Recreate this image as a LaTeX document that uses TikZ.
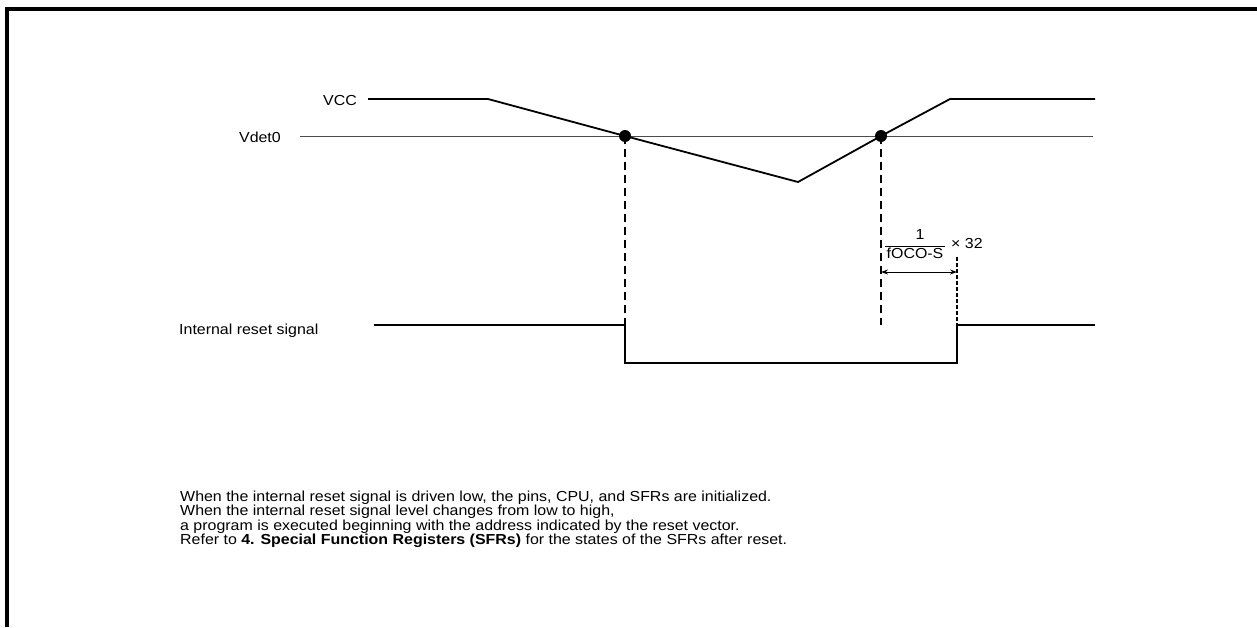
\documentclass[tikz,border=0pt]{standalone}
\usepackage{fontspec}
\setmainfont{Liberation Sans}[FakeStretch=1.1]
\usetikzlibrary{arrows.meta}
\begin{document}
\begin{tikzpicture}[x=1pt,y=-1pt,font=\fontsize{14.5}{14.5}\selectfont,
	signal/.style={line width=1.8pt},
	hilfslinie/.style={line width=1.4pt,dash pattern=on 8pt off 5pt},
	punkt/.style={circle,fill,inner sep=0pt,minimum size=12pt},
	beschriftung/.style={inner sep=0pt}]
	\useasboundingbox (0,0) rectangle (1257,627);
	\draw[line width=3.5pt] (7,627) -- (7,9) -- (1257,9);%Rahmen oben und links
	\coordinate (vccA) at (368,99);
	\coordinate (vccB) at (488,99);
	\coordinate (fall) at (625,136);
	\coordinate (tief) at (798,182);
	\coordinate (steig) at (881,136);
	\coordinate (vccC) at (950,99);
	\coordinate (vccD) at (1095,99);
	\coordinate (vdetA) at (300,136);
	\coordinate (vdetB) at (1093,136);
	\coordinate (resA) at (374,325);
	\coordinate (resB) at (625,325);
	\coordinate (resC) at (625,363);
	\coordinate (resD) at (957,363);
	\coordinate (resE) at (957,325);
	\coordinate (resF) at (1095,325);
	\node[beschriftung,anchor=base east] (vcc) at (357,105) {VCC};
	\node[beschriftung,anchor=base east] (vdet) at (281,142) {Vdet0};
	\node[beschriftung,anchor=base west] (reset) at (179,334) {Internal reset signal};
	\draw[line width=0.9pt,gray!60!black] (vdetA) -- (vdetB);%Schwelle Vdet0
	\draw[signal] (vccA) -- (vccB) -- (fall) -- (tief) -- (steig) -- (vccC) -- (vccD);%Verlauf VCC
	\draw[signal] (resA) -- (resB) -- (resC) -- (resD) -- (resE) -- (resF);%Reset Signal
	\draw[hilfslinie] (fall) -- (resB);%Hilfslinie links
	\draw[hilfslinie] (steig) -- (steig |- resA);%Hilfslinie mitte
	\draw[hilfslinie,dash pattern=on 4pt off 2pt] (957,257) -- (resE);%Hilfslinie rechts
	\node[punkt] (schnittA) at (fall) {};
	\node[punkt] (schnittB) at (steig) {};
	\draw[line width=0.9pt,{Stealth[length=7pt,width=5pt]}-{Stealth[length=7pt,width=5pt]}] (881,272) -- (957,272);%Zeitspanne
	\node[beschriftung] (eins) at (920,235) {1};
	\node[beschriftung,anchor=base] (fosc) at (915,258) {fOCO-S};
	\draw[line width=0.8pt] (885,246) -- (945,246);%Bruchstrich
	\node[beschriftung,anchor=west] (mal) at (951,244) {× 32};
	\node[beschriftung,anchor=base west] (zeileA) at (180,501) {When the internal reset signal is driven low, the pins, CPU, and SFRs are initialized.};
	\node[beschriftung,anchor=base west] (zeileB) at (180,515.5) {When the internal reset signal level changes from low to high,};
	\node[beschriftung,anchor=base west] (zeileC) at (180,530) {a program is executed beginning with the address indicated by the reset vector.};
	\node[beschriftung,anchor=base west] (zeileD) at (180,544.5) {Refer to \textbf{4. Special Function Registers (SFRs)} for the states of the SFRs after reset.};

\end{tikzpicture}
\end{document}
